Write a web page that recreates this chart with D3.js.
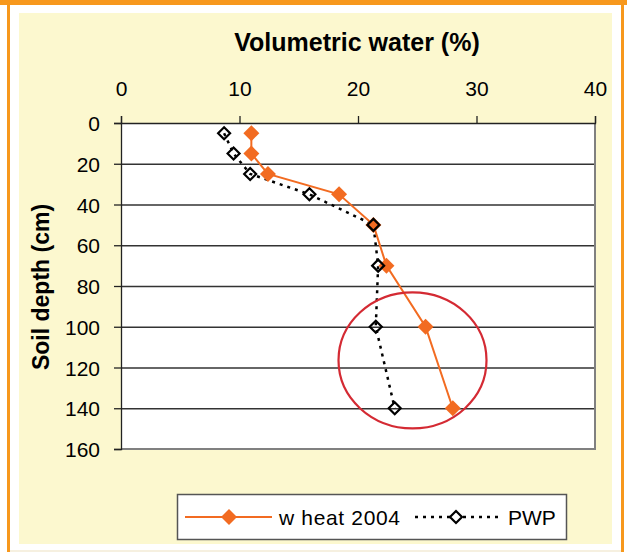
<!DOCTYPE html>
<html>
<head>
<meta charset="utf-8">
<script src="https://cdn.jsdelivr.net/npm/d3@7"></script>
<style>
  body { margin: 0; background: #fff; }
  svg { display: block; font-family: "Liberation Sans", Arial, sans-serif; }
</style>
</head>
<body>
<div id="chart"></div>
<script>
// ---------------- DATA ----------------
const depths = [5, 15, 25, 35, 50, 70, 100, 140];
const wheat2004 = [11.0, 11.0, 12.4, 18.4, 21.3, 22.4, 25.7, 28.0];
const pwp = [8.7, 9.5, 10.9, 15.9, 21.3, 21.7, 21.5, 23.1];
const xTicks = [0, 10, 20, 30, 40];
const yTicks = [0, 20, 40, 60, 80, 100, 120, 140, 160];
const seriesNames = ["w heat 2004", "PWP"];

const W = 627, H = 552;
const orange = "#f26b21";
const FONT = "'Liberation Sans', Arial, sans-serif";

const svg = d3.select("#chart").append("svg")
  .attr("width", W).attr("height", H);

// ---------------- FRAME ----------------
svg.append("rect").attr("x", 0).attr("y", 0).attr("width", W).attr("height", 5).attr("fill", "#f7981d");
svg.append("rect").attr("x", 7).attr("y", 0).attr("width", 3).attr("height", H).attr("fill", "#f7981d");
svg.append("rect").attr("x", 621).attr("y", 0).attr("width", 3).attr("height", H).attr("fill", "#f7981d");
svg.append("rect").attr("x", 10).attr("y", 550).attr("width", 611).attr("height", 2).attr("fill", "#f6f0e0");
svg.append("rect").attr("x", 19).attr("y", 13).attr("width", 593).attr("height", 531).attr("fill", "#fcf8cf");

// ---------------- SCALES ----------------
const x = d3.scaleLinear().domain([0, 40]).range([121, 595]);
const y = d3.scaleLinear().domain([0, 160]).range([123, 449]);

svg.append("rect")
  .attr("x", x(0)).attr("y", y(0))
  .attr("width", x(40) - x(0)).attr("height", y(160) - y(0))
  .attr("fill", "#fff");

// gridlines
svg.append("g").selectAll("line")
  .data(yTicks.slice(1, -1))
  .enter().append("line")
  .attr("x1", x(0)).attr("x2", x(40))
  .attr("y1", d => y(d) + 0.5).attr("y2", d => y(d) + 0.5)
  .attr("stroke", "#333").attr("stroke-width", 1.3);

// plot border right / bottom
svg.append("path")
  .attr("d", `M${x(40)},${y(0)}V${y(160)}H${x(0)}`)
  .attr("fill", "none").attr("stroke", "#808080").attr("stroke-width", 2);

// axes
const xAxis = svg.append("g")
  .attr("transform", `translate(0,${y(0)})`)
  .call(d3.axisTop(x).tickValues(xTicks).tickSize(7).tickPadding(20));
const yAxis = svg.append("g")
  .attr("transform", `translate(${x(0)},0)`)
  .call(d3.axisLeft(y).tickValues(yTicks).tickSize(7).tickPadding(14));

[xAxis, yAxis].forEach(a => {
  a.attr("font-size", 21).attr("font-family", FONT);
  a.select(".domain").attr("stroke", "#222").attr("stroke-width", 1.3);
  a.selectAll(".tick line").attr("stroke", "#222").attr("stroke-width", 1.3);
  a.selectAll(".tick text")
    .attr("fill", "#000")
    .attr("font-size", 21);
});
yAxis.selectAll(".tick text").attr("dy", "0.36em");

// titles
svg.append("text")
  .attr("x", 357).attr("y", 51)
  .attr("text-anchor", "middle")
  .attr("font-size", 25).attr("font-weight", "bold")
  .text("Volumetric water (%)");

svg.append("text")
  .attr("transform", `translate(49,287) rotate(-90)`)
  .attr("text-anchor", "middle")
  .attr("font-size", 23).attr("font-weight", "bold")
  .text("Soil depth (cm)");

// ---------------- SERIES ----------------
const diamond = (cx, cy, r) => `M${cx},${cy - r}L${cx + r},${cy}L${cx},${cy + r}L${cx - r},${cy}Z`;

const pwpPts = depths.map((d, i) => [x(pwp[i]), y(d)]);
const wheatPts = depths.map((d, i) => [x(wheat2004[i]), y(d)]);
const line = d3.line();

svg.append("path")
  .attr("d", line(pwpPts))
  .attr("fill", "none").attr("stroke", "#000")
  .attr("stroke-width", 2.5).attr("stroke-dasharray", "3,5");

svg.append("path")
  .attr("d", line(wheatPts))
  .attr("fill", "none").attr("stroke", orange).attr("stroke-width", 2);

svg.append("g").selectAll("path")
  .data(wheatPts).enter().append("path")
  .attr("d", p => diamond(p[0], p[1], 8))
  .attr("fill", orange);

svg.append("g").selectAll("path")
  .data(pwpPts).enter().append("path")
  .attr("d", p => diamond(p[0], p[1], 6))
  .attr("fill", "none").attr("stroke", "#000").attr("stroke-width", 2.2);

// red highlight ellipse
svg.append("ellipse")
  .attr("cx", x(24.6)).attr("cy", y(116.5))
  .attr("rx", 74).attr("ry", 68)
  .attr("fill", "none").attr("stroke", "#d42a33").attr("stroke-width", 2.2);

// ---------------- LEGEND ----------------
const lg = svg.append("g").attr("font-size", 21);
lg.append("rect")
  .attr("x", 177.5).attr("y", 494.5).attr("width", 389).attr("height", 45)
  .attr("fill", "#fff").attr("stroke", "#555").attr("stroke-width", 1.5);
const ly = 517;
lg.append("line").attr("x1", 185).attr("x2", 272).attr("y1", ly).attr("y2", ly)
  .attr("stroke", orange).attr("stroke-width", 2);
lg.append("path").attr("d", diamond(229, ly, 8)).attr("fill", orange);
lg.append("text").attr("x", 279).attr("y", ly + 8)
  .attr("textLength", 121).text(seriesNames[0]);
lg.append("line").attr("x1", 415).attr("x2", 498).attr("y1", ly).attr("y2", ly)
  .attr("stroke", "#000").attr("stroke-width", 2.5).attr("stroke-dasharray", "3,5");
lg.append("path").attr("d", diamond(456, ly, 6))
  .attr("fill", "#fff").attr("stroke", "#000").attr("stroke-width", 2.2);
lg.append("text").attr("x", 508).attr("y", ly + 8)
  .text(seriesNames[1]);
</script>
</body>
</html>
